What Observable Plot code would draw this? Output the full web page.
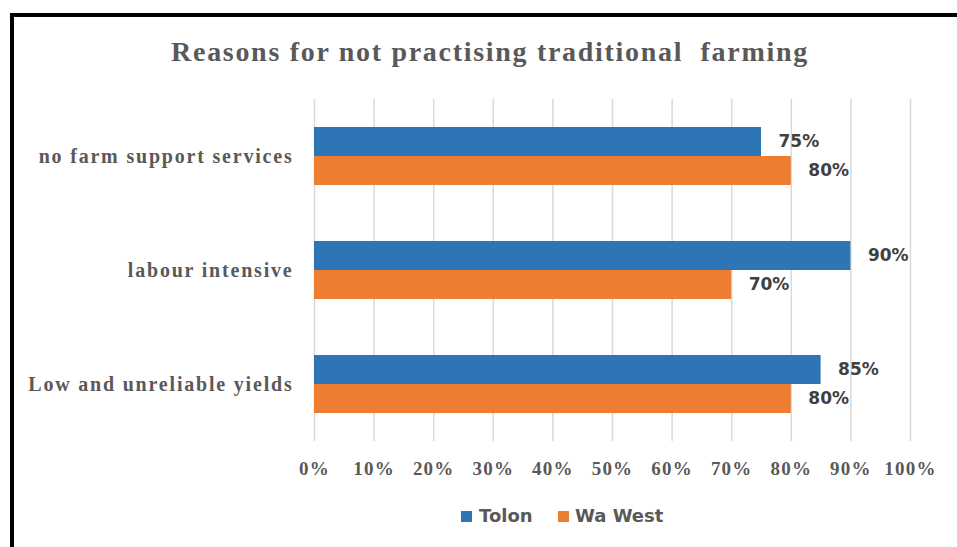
<!DOCTYPE html>
<html>
<head>
<meta charset="utf-8">
<script src="https://cdn.jsdelivr.net/npm/d3@7"></script>
<script src="https://cdn.jsdelivr.net/npm/@observablehq/plot@0.6"></script>
<style>
  html, body { margin: 0; padding: 0; background: #fff; }
  #wrap { position: relative; width: 957px; height: 547px; overflow: hidden; background: #fff; }
  #chart { position: absolute; left: 0; top: 0; }
  .border-left { position: absolute; left: 10px; top: 13px; width: 4px; height: 534px; background: #000; }
  .border-top { position: absolute; left: 10px; top: 13px; width: 947px; height: 4px; background: #000; }
  #title { position: absolute; left: 23px; width: 934px; top: 36px; text-align: center;
    font-family: "Liberation Serif", serif; font-weight: bold; font-size: 28px; color: #595959; letter-spacing: 1.7px; white-space: pre; }
  .leg { position: absolute; top: 505px; font-family: "DejaVu Sans", sans-serif; font-size: 18px; font-weight: bold; color: #595959; line-height: 22px; white-space: nowrap; letter-spacing: 0px; }
  .sw { position: absolute; top: 511px; width: 11px; height: 11px; }
</style>
</head>
<body>
<div id="wrap">
  <div id="chart"></div>
  <div class="border-left"></div>
  <div class="border-top"></div>
  <div id="title"></div>
  <div id="legend"></div>
</div>
<script>
const titleText = "Reasons for not practising traditional  farming";
const categories = ["no farm support services", "labour intensive", "Low and unreliable yields"];
const series = ["Tolon", "Wa West"];
const tolon = [0.75, 0.90, 0.85];
const waWest = [0.80, 0.70, 0.80];
const xTicks = [0, 0.1, 0.2, 0.3, 0.4, 0.5, 0.6, 0.7, 0.8, 0.9, 1.0];
const colors = ["#2E75B6", "#ED7D31"];

const data = categories.flatMap((c, i) => [
  {category: c, series: series[0], value: tolon[i]},
  {category: c, series: series[1], value: waWest[i]}
]);
const pct = d => Math.round(d * 100) + "%";

const chart = Plot.plot({
  width: 957,
  height: 547,
  marginLeft: 314,
  marginRight: 47,
  marginTop: 98,
  marginBottom: 105,
  style: {background: "transparent"},
  x: {domain: [0, 1], ticks: xTicks},
  y: {domain: series, paddingInner: 0, paddingOuter: 0.91, axis: null},
  fy: {domain: categories, padding: 0, axis: null},
  color: {domain: series, range: colors},
  marks: [
    Plot.ruleX(xTicks, {stroke: "#d9d9d9", strokeWidth: 1.5}),
    Plot.barX(data, {x: "value", y: "series", fy: "category", fill: "series"}),
    Plot.text(data, {x: "value", y: "series", fy: "category", text: d => pct(d.value),
      textAnchor: "start", dx: 17, fontFamily: "DejaVu Sans", fontWeight: "bold", fontSize: 17, fill: "#404040"}),
    Plot.axisX({ticks: xTicks, tickSize: 0, tickPadding: 20, tickFormat: pct, label: null,
      fontFamily: "Liberation Serif", fontWeight: "bold", fontSize: 19, fill: "#595959"}),
    Plot.axisFy({anchor: "left", tickSize: 0, tickPadding: 21, label: null,
      fontFamily: "Liberation Serif", fontWeight: "bold", fontSize: 20, fill: "#595959"})
  ]
});
document.getElementById("chart").appendChild(chart);
d3.select(chart).selectAll("[aria-label='x-axis tick label'] text").style("letter-spacing", "1.2px");
d3.select(chart).selectAll("[aria-label='fy-axis tick label'] text").style("letter-spacing", "1.8px");

document.getElementById("title").textContent = titleText;

const legend = document.getElementById("legend");
const legPos = [{sw: 461, tx: 479}, {sw: 558, tx: 575}];
series.forEach((s, i) => {
  const sw = document.createElement("div");
  sw.className = "sw";
  sw.style.left = legPos[i].sw + "px";
  sw.style.background = colors[i];
  legend.appendChild(sw);
  const t = document.createElement("div");
  t.className = "leg";
  t.style.left = legPos[i].tx + "px";
  t.textContent = s;
  legend.appendChild(t);
});
</script>
</body>
</html>
